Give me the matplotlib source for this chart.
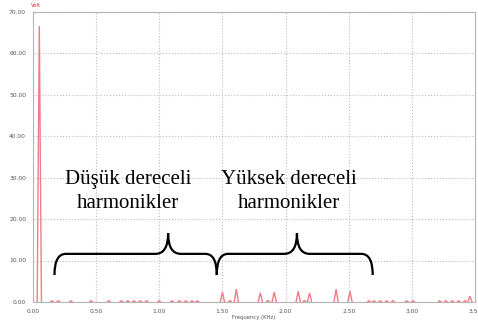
import matplotlib
matplotlib.use("Agg")
import matplotlib.pyplot as plt
from matplotlib.path import Path
from matplotlib.patches import PathPatch

# ---- data ----
peak_freqs = [0.05, 0.15, 0.20, 0.30, 0.46, 0.60, 0.70, 0.75, 0.80, 0.85, 0.90,
              1.00, 1.10, 1.16, 1.21, 1.26, 1.30, 1.50, 1.56, 1.61, 1.80, 1.86,
              1.91, 2.10, 2.15, 2.19, 2.40, 2.51, 2.66, 2.70, 2.75, 2.80, 2.85,
              2.96, 3.01, 3.22, 3.27, 3.32, 3.37, 3.42, 3.46]
peak_amps = [66.5, 0.3, 0.3, 0.3, 0.3, 0.3, 0.3, 0.3, 0.3, 0.3, 0.3,
             0.3, 0.3, 0.3, 0.3, 0.3, 0.3, 2.4, 0.4, 3.1, 2.2, 0.4,
             2.4, 2.6, 0.4, 2.2, 3.1, 2.6, 0.3, 0.3, 0.3, 0.3, 0.3,
             0.3, 0.3, 0.3, 0.3, 0.3, 0.3, 0.3, 1.4]
x_ticks = [0.0, 0.5, 1.0, 1.5, 2.0, 2.5, 3.0, 3.5]
y_ticks = [0, 10, 20, 30, 40, 50, 60, 70]
group_labels = ["Düşük dereceli\nharmonikler", "Yüksek dereceli\nharmonikler"]
group_spans = [(0.17, 1.455), (1.455, 2.69)]
group_centers = [1.07, 2.09]
label_x = [0.755, 2.03]

fig = plt.figure(figsize=(4.78, 3.23), dpi=100)
ax = fig.add_axes([33/478, 1 - 302/323, (475 - 33)/478, (302 - 11.5)/323])

trace_color = "#f07c86"
for f, a in zip(peak_freqs, peak_amps):
    hw = 0.017 if a > 1 else 0.012
    ax.plot([f - hw, f, f + hw], [0, a, 0], color=trace_color, lw=1.0,
            solid_joinstyle="miter", zorder=3)

ax.set_xlim(0, 3.5)
ax.set_ylim(0, 70)
ax.set_xticks(x_ticks)
ax.set_yticks(y_ticks)
ax.set_xticklabels([f"{v:.2f}" for v in x_ticks])
ax.set_yticklabels([f"{v:.2f}" for v in y_ticks])
ax.tick_params(length=0, labelsize=4.3, colors="#555555")
ax.tick_params(axis="y", pad=5)
ax.tick_params(axis="x", pad=5)
ax.grid(True, linestyle=":", color="#bdbdbd", lw=0.8)
for s in ax.spines.values():
    s.set_color("#b5b5b5")
    s.set_linewidth(0.8)
ax.set_xlabel("Frequency (KHz)", fontsize=3.8, color="#555555", labelpad=1)
ax.text(-0.005, 1.012, "Volt", transform=ax.transAxes, fontsize=3.8,
        color="#e03040", ha="left", va="bottom")

# annotations
for lab, lx in zip(group_labels, label_x):
    ax.text(lx, 22.6, lab, fontsize=15, family="Liberation Serif",
            ha="center", va="baseline", linespacing=1.38, zorder=5)

def brace(x0, x1, xm, yb=6.5, yh=11.6, yt=16.6, r=0.09, r2=0.1):
    verts = [(x0, yb), (x0, yh), (x0 + r, yh),
             (xm - r2, yh), (xm, yh), (xm, yt),
             (xm, yh), (xm + r2, yh),
             (x1 - r, yh), (x1, yh), (x1, yb)]
    codes = [Path.MOVETO, Path.CURVE3, Path.CURVE3,
             Path.LINETO, Path.CURVE3, Path.CURVE3,
             Path.CURVE3, Path.CURVE3,
             Path.LINETO, Path.CURVE3, Path.CURVE3]
    ax.add_patch(PathPatch(Path(verts, codes), fill=False, lw=1.6,
                           color="black", zorder=5))

for (x0, x1), xm in zip(group_spans, group_centers):
    brace(x0, x1, xm)

fig.savefig("out.png", dpi=100)
